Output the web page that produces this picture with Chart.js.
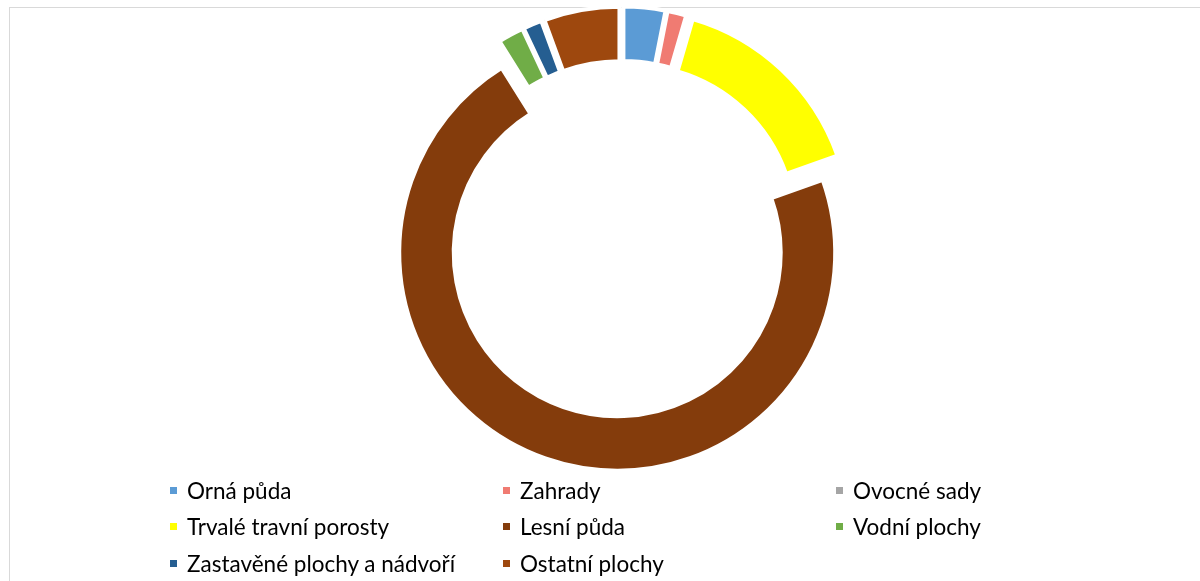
<!DOCTYPE html>
<html lang="cs">
<head>
    <meta charset="UTF-8">
    <title>Struktura pozemků</title>
    <script src="https://cdn.jsdelivr.net/npm/chart.js"></script>
    <style>
        body {
            margin: 0;
            width: 1200px;
            height: 581px;
            overflow: hidden;
            background: #fff;
            font-family: Lato, "Open Sans", sans-serif;
        }
        .frame {
            position: absolute;
            left: 9px;
            top: 7px;
            width: 1200px;
            height: 600px;
            border-left: 1px solid #d9d9d9;
            border-top: 1px solid #d9d9d9;
        }
        #kolac {
            position: absolute;
            left: 0;
            top: 0;
        }
        .legenda {
            position: absolute;
            left: 170px;
            top: 472px;
            display: grid;
            grid-template-columns: 333px 333px 333px;
            grid-auto-rows: 36.5px;
            font-size: 22.5px;
            color: #000;
        }
        .polozka {
            display: flex;
            align-items: center;
        }
        .ctverec {
            width: 7px;
            height: 7px;
            margin-right: 10px;
        }
    </style>
</head>
<body>
<div class="frame"></div>
<canvas id="kolac" width="1200" height="581"></canvas>
<div class="legenda" id="legenda"></div>

<script>
    // druhy pozemků a jejich podíl (%)
    const druhy = ['Orná půda', 'Zahrady', 'Ovocné sady', 'Trvalé travní porosty',
        'Lesní půda', 'Vodní plochy', 'Zastavěné plochy a nádvoří', 'Ostatní plochy'];
    const podily = [3.1, 1.4, 0, 15.1, 71.6, 1.9, 1.4, 5.6];
    const barvy = ['#5b9bd5', '#f07b72', '#a5a5a5', '#ffff00',
        '#843c0c', '#70ad47', '#255e91', '#9e480e'];

    // vysunutí všech dílů od středu (jako v Excelu)
    const vysunuti = 14.5;
    const explodePlugin = {
        id: 'explode',
        afterDatasetsUpdate(chart) {
            chart.getDatasetMeta(0).data.forEach(arc => {
                const stred = (arc.startAngle + arc.endAngle) / 2;
                arc.x += Math.cos(stred) * vysunuti;
                arc.y += Math.sin(stred) * vysunuti;
            });
        }
    };

    const ctx = document.getElementById('kolac').getContext('2d');
    new Chart(ctx, {
        type: 'doughnut',
        data: {
            labels: druhy,
            datasets: [{
                data: podily,
                backgroundColor: barvy,
                borderColor: '#ffffff',
                borderWidth: 4,
                hoverOffset: 0,
                offset: 0
            }]
        },
        options: {
            responsive: false,
            animation: false,
            events: [],
            cutout: '75%',
            layout: {
                padding: { top: 19, bottom: 122, left: 44, right: 0 }
            },
            plugins: {
                legend: { display: false },
                tooltip: { enabled: false },
                title: { display: false }
            }
        },
        plugins: [explodePlugin]
    });

    // legenda ve třech sloupcích
    const legenda = document.getElementById('legenda');
    druhy.forEach((druh, i) => {
        const polozka = document.createElement('div');
        polozka.className = 'polozka';
        const ctverec = document.createElement('span');
        ctverec.className = 'ctverec';
        ctverec.style.background = barvy[i];
        const text = document.createElement('span');
        text.textContent = druh;
        polozka.appendChild(ctverec);
        polozka.appendChild(text);
        legenda.appendChild(polozka);
    });
</script>
</body>
</html>
